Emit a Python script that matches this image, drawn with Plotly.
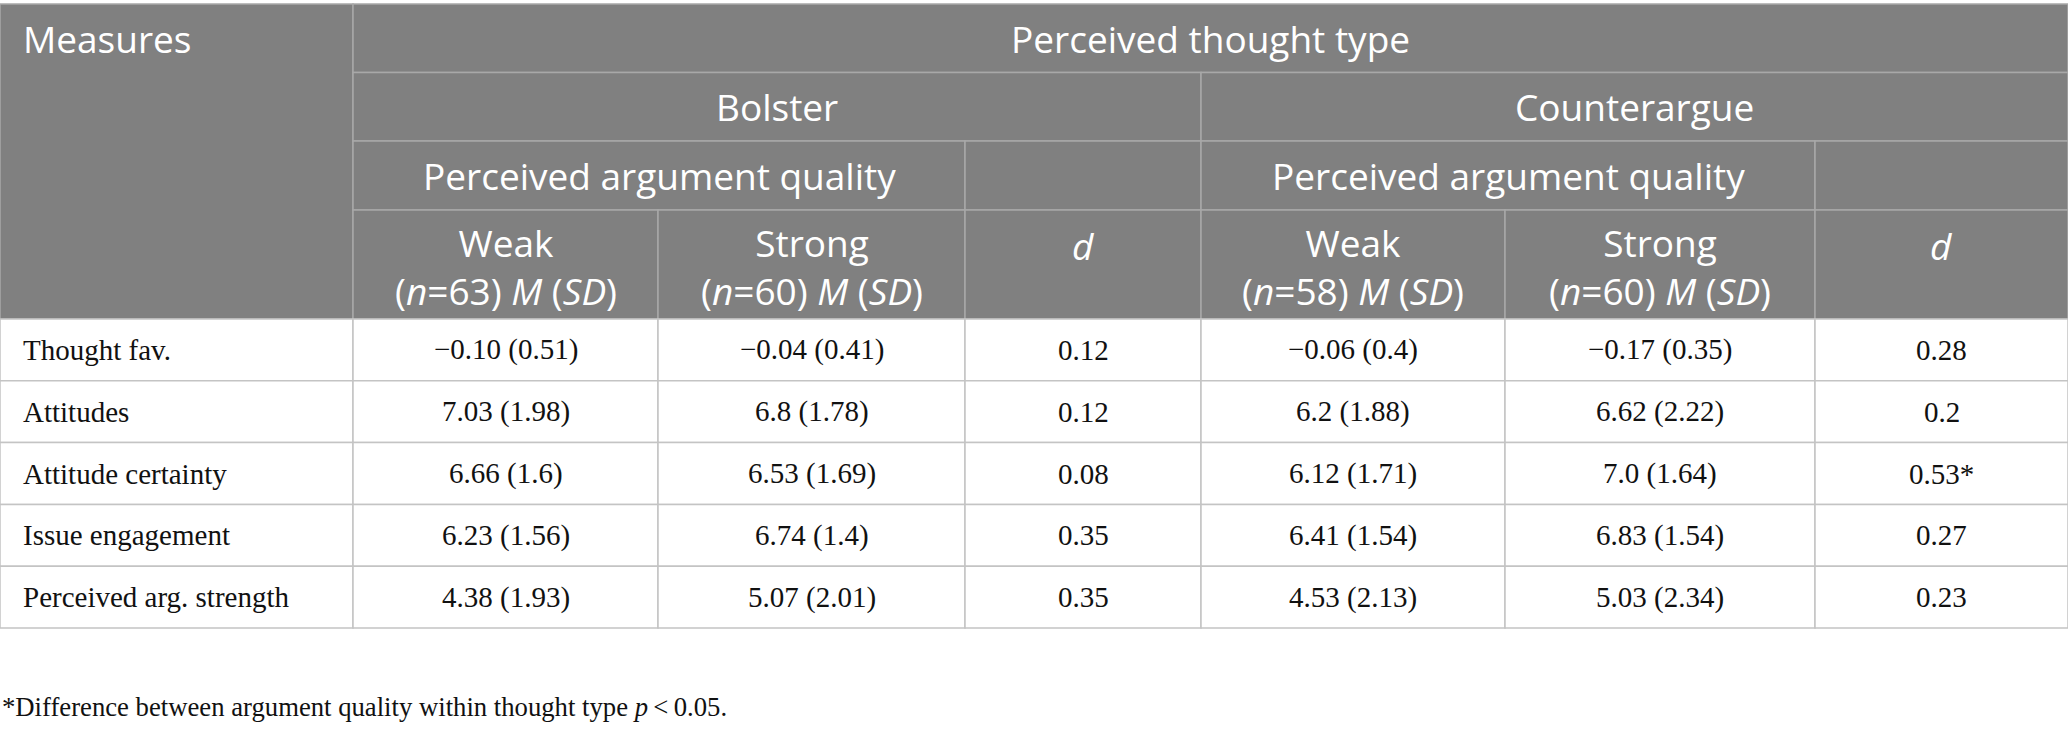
import plotly.graph_objects as go

# ---------------- data ----------------
measures = ["Thought fav.", "Attitudes", "Attitude certainty", "Issue engagement", "Perceived arg. strength"]
bolster_weak = ["\u22120.10 (0.51)", "7.03 (1.98)", "6.66 (1.6)", "6.23 (1.56)", "4.38 (1.93)"]
bolster_strong = ["\u22120.04 (0.41)", "6.8 (1.78)", "6.53 (1.69)", "6.74 (1.4)", "5.07 (2.01)"]
bolster_d = ["0.12", "0.12", "0.08", "0.35", "0.35"]
counter_weak = ["\u22120.06 (0.4)", "6.2 (1.88)", "6.12 (1.71)", "6.41 (1.54)", "4.53 (2.13)"]
counter_strong = ["\u22120.17 (0.35)", "6.62 (2.22)", "7.0 (1.64)", "6.83 (1.54)", "5.03 (2.34)"]
counter_d = ["0.28", "0.2", "0.53*", "0.27", "0.23"]

thought_types = ["Bolster", "Counterargue"]
quality_labels = ["Weak", "Strong"]
group_n = [63, 60, 58, 60]
footnote = "*Difference between argument quality within thought type <i>p</i>\u2009<\u20090.05."

# ---------------- layout (style) ----------------
W, H = 2068, 732
col_edges = [0, 353, 658, 965, 1201, 1505, 1815, 2068]
head_edges = [4, 72.5, 141, 210, 319]
body_top, body_row_h = 319, 61.8

HEAD_BG = "#808080"
HEAD_LINE = "#a8a8a8"
BODY_LINE = "#c4c4c4"
HEAD_FONT = dict(family="Open Sans", size=37, color="white")
BODY_FONT = dict(family="Liberation Serif", size=29, color="#111111")
FOOT_FONT = dict(family="Liberation Serif", size=26.7, color="#111111")

shapes = []
annotations = []


def cell(x0, x1, y0, y1, fill, line):
    shapes.append(dict(type="rect", xref="x", yref="y", x0=x0, x1=x1, y0=y0, y1=y1,
                       fillcolor=fill, line=dict(color=line, width=1.5), layer="below"))


def text(x, y, s, font, xanchor="center", yanchor="middle"):
    annotations.append(dict(x=x, y=y, xref="x", yref="y", text=s, showarrow=False,
                            font=font, xanchor=xanchor, yanchor=yanchor))


def mid(a, b):
    return (a + b) / 2

# header cells
cell(col_edges[0], col_edges[1], head_edges[0], head_edges[4], HEAD_BG, HEAD_LINE)
text(col_edges[0] + 21, mid(head_edges[0], head_edges[1]), "Measures", HEAD_FONT, xanchor="left")
cell(col_edges[1], col_edges[7], head_edges[0], head_edges[1], HEAD_BG, HEAD_LINE)
text(mid(col_edges[1], col_edges[7]), mid(head_edges[0], head_edges[1]), "Perceived thought type", HEAD_FONT)

ni = 0
for g, tt in enumerate(thought_types):
    c0 = 1 + 3 * g
    cell(col_edges[c0], col_edges[c0 + 3], head_edges[1], head_edges[2], HEAD_BG, HEAD_LINE)
    text(mid(col_edges[c0], col_edges[c0 + 3]), mid(head_edges[1], head_edges[2]), tt, HEAD_FONT)
    cell(col_edges[c0], col_edges[c0 + 2], head_edges[2], head_edges[3], HEAD_BG, HEAD_LINE)
    text(mid(col_edges[c0], col_edges[c0 + 2]), mid(head_edges[2], head_edges[3]),
         "Perceived argument quality", HEAD_FONT)
    cell(col_edges[c0 + 2], col_edges[c0 + 3], head_edges[2], head_edges[3], HEAD_BG, HEAD_LINE)
    for q, ql in enumerate(quality_labels):
        c = c0 + q
        cell(col_edges[c], col_edges[c + 1], head_edges[3], head_edges[4], HEAD_BG, HEAD_LINE)
        xm = mid(col_edges[c], col_edges[c + 1])
        text(xm, head_edges[3] + 56,
             "%s<br>(<i>n</i>=%d) <i>M</i> (<i>SD</i>)" % (ql, group_n[ni]), HEAD_FONT)
        ni += 1
    c = c0 + 2
    cell(col_edges[c], col_edges[c + 1], head_edges[3], head_edges[4], HEAD_BG, HEAD_LINE)
    text(mid(col_edges[c], col_edges[c + 1]), head_edges[3] + 35, "<i>d</i>", HEAD_FONT)

# body
columns = [measures, bolster_weak, bolster_strong, bolster_d, counter_weak, counter_strong, counter_d]
for r in range(len(measures)):
    y0 = body_top + r * body_row_h
    y1 = y0 + body_row_h
    for c, colvals in enumerate(columns):
        cell(col_edges[c], col_edges[c + 1], y0, y1, "white", BODY_LINE)
        if c == 0:
            text(col_edges[0] + 21, mid(y0, y1), colvals[r], BODY_FONT, xanchor="left")
        else:
            text(mid(col_edges[c], col_edges[c + 1]), mid(y0, y1), colvals[r], BODY_FONT)

text(0, 707, footnote, FOOT_FONT, xanchor="left")

fig = go.Figure()
fig.update_layout(
    width=W, height=H,
    margin=dict(l=0, r=0, t=0, b=0),
    paper_bgcolor="white", plot_bgcolor="white",
    xaxis=dict(range=[0, W], visible=False, fixedrange=True),
    yaxis=dict(range=[H, 0], visible=False, fixedrange=True),
    shapes=shapes, annotations=annotations, showlegend=False,
)
fig.write_html("out.html", config={"displayModeBar": False},
               post_script="document.body.style.margin='0';document.body.style.overflow='hidden';")
